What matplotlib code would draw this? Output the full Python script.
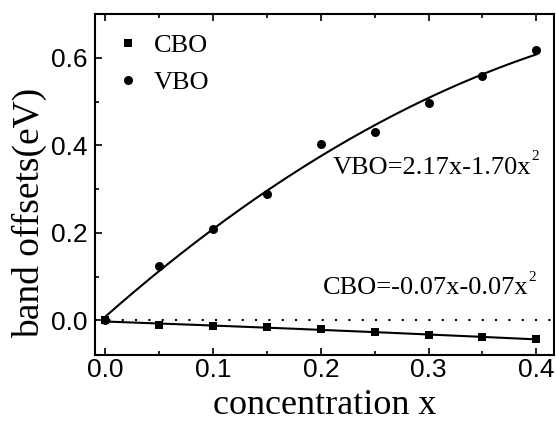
import numpy as np
import matplotlib.pyplot as plt
from matplotlib.ticker import MultipleLocator

# concentration x and band offsets (eV)
conc = [0.0, 0.05, 0.10, 0.15, 0.20, 0.25, 0.30, 0.35, 0.40]
cbo = [0.0, -0.010, -0.013, -0.016, -0.019, -0.026, -0.033, -0.038, -0.043]
vbo = [0.0, 0.124, 0.208, 0.290, 0.402, 0.431, 0.496, 0.559, 0.617]

plt.rcParams['font.family'] = 'Liberation Serif'

fig = plt.figure(figsize=(5.56, 4.21), dpi=100)
ax = fig.add_axes([0.1703, 0.1556, 0.8270, 0.8111])

# quadratic fits of the points
xs = np.linspace(0, 0.4, 200)
ax.plot(xs, np.polyval(np.polyfit(conc, vbo, 2), xs), color='black', lw=1.5)
ax.plot(xs, np.polyval(np.polyfit(conc, cbo, 2), xs), color='black', lw=1.5)
ax.axhline(0, color='black', lw=1.5, ls=(0, (1, 5.4)))

ax.plot(conc, cbo, 's', color='black', ms=5.5, mew=0, label='CBO')
ax.plot(conc, vbo, 'o', color='black', ms=6.5, mew=0, label='VBO')

# fit equations, with a small raised "2"
t1 = ax.text(0.2114, 0.3356, 'VBO=2.17x-1.70x', fontsize=19, ha='left', va='baseline')
ax.annotate('2', xy=(1, 1), xycoords=t1, xytext=(0, 4.5), textcoords='offset points',
            ha='left', va='top', fontsize=11)
t2 = ax.text(0.2021, 0.061, 'CBO=-0.07x-0.07x', fontsize=19, ha='left', va='baseline')
ax.annotate('2', xy=(1, 1), xycoords=t2, xytext=(0, 4.5), textcoords='offset points',
            ha='left', va='top', fontsize=11)

ax.legend(loc='upper left', frameon=False, fontsize=19, handlelength=1.0,
          handletextpad=0.5, labelspacing=0.5, borderaxespad=0.35, numpoints=1)

ax.set_xlim(-0.01, 0.417)
ax.set_ylim(-0.08, 0.70)
ax.xaxis.set_major_locator(MultipleLocator(0.1))
ax.xaxis.set_minor_locator(MultipleLocator(0.05))
ax.yaxis.set_major_locator(MultipleLocator(0.2))
ax.yaxis.set_minor_locator(MultipleLocator(0.1))
ax.tick_params(which='both', direction='in', top=True, right=False, width=1.2)
ax.tick_params(which='major', length=5, pad=2)
ax.tick_params(axis='y', which='major', pad=5)
ax.tick_params(which='minor', length=3)
for lab in ax.get_xticklabels() + ax.get_yticklabels():
    lab.set_fontfamily('Liberation Sans')
    lab.set_fontsize(19)
for s in ax.spines.values():
    s.set_linewidth(1.5)

ax.set_xlabel('concentration x', fontsize=26)
ax.set_ylabel('band offsets(eV)', fontsize=27)
ax.xaxis.set_label_coords(0.501, -0.099)
ax.yaxis.set_label_coords(-0.104, 0.417)

fig.savefig('out.png', dpi=100)
